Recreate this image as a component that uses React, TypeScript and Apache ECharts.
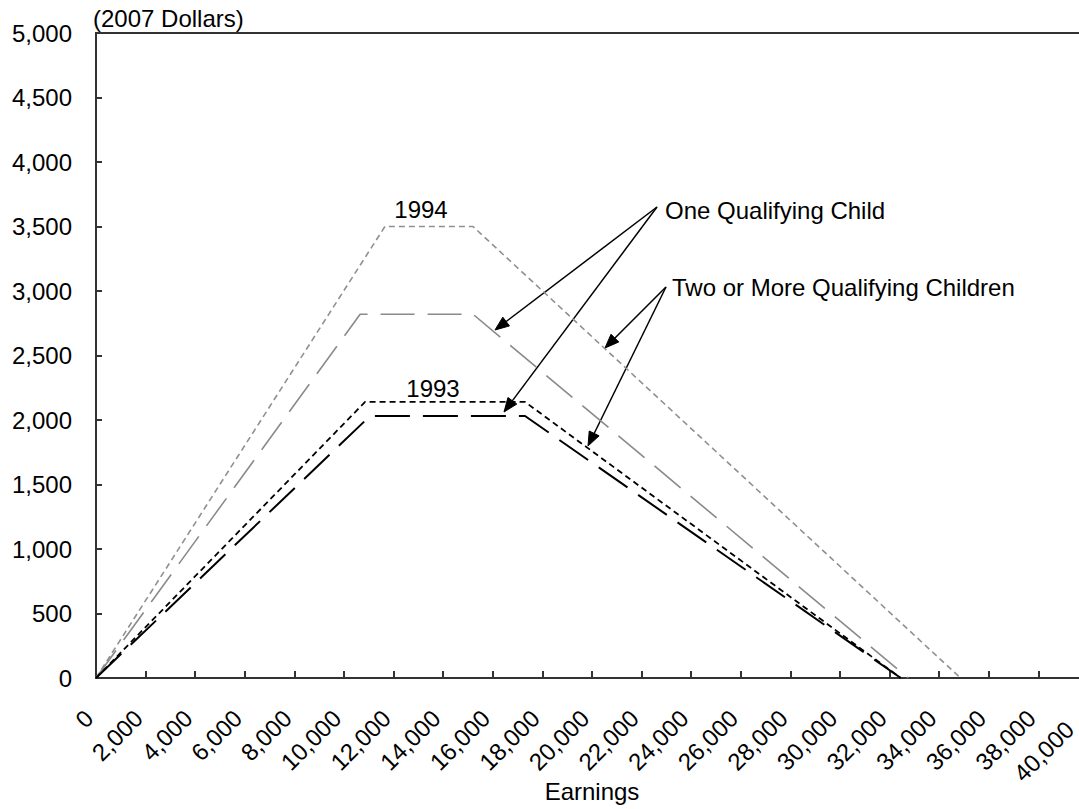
import React, { useEffect, useRef } from "react";
import * as echarts from "echarts";

// ---- Data (2007 dollars) ----
const earnings1994Two = [0, 11650, 15200, 34860];
const credit1994Two = [0, 3500, 3500, 0];

const earnings1994One = [0, 10650, 15200, 32750];
const credit1994One = [0, 2820, 2820, 0];

const earnings1993Two = [0, 10850, 17300, 32450];
const credit1993Two = [0, 2140, 2140, 0];

const earnings1993One = [0, 11050, 17300, 32450];
const credit1993One = [0, 2031, 2031, 0];

const xMin = 0;
const xMax = 40000;
const xStep = 2000;
const yMin = 0;
const yMax = 5000;
const yStep = 500;

const yAxisNote = "(2007 Dollars)";
const xAxisName = "Earnings";
const label1994 = "1994";
const label1993 = "1993";
const noteOne = "One Qualifying Child";
const noteTwo = "Two or More Qualifying Children";

const FONT = "'Liberation Sans', Arial, sans-serif";

const fmt = (v: number) => String(v).replace(/\B(?=(\d{3})+(?!\d))/g, ",");

const pairs = (xs: number[], ys: number[]) => xs.map((x, i) => [x, ys[i]]);

function arrow(x1: number, y1: number, x2: number, y2: number) {
  const dx = x2 - x1;
  const dy = y2 - y1;
  const len = Math.sqrt(dx * dx + dy * dy);
  const ux = dx / len;
  const uy = dy / len;
  const px = -uy;
  const py = ux;
  const L = 14;
  const W = 5.5;
  const bx = x2 - ux * L;
  const by = y2 - uy * L;
  return [
    {
      type: "line",
      shape: { x1, y1, x2: bx + ux * 2, y2: by + uy * 2 },
      style: { stroke: "#000", lineWidth: 1.5 },
      silent: true,
    },
    {
      type: "polygon",
      shape: {
        points: [
          [x2, y2],
          [bx + px * W, by + py * W],
          [bx - px * W, by - py * W],
        ],
      },
      style: { fill: "#000", stroke: "#000", lineWidth: 1 },
      silent: true,
    },
  ];
}

function textEl(text: string, x: number, y: number, align: string = "left") {
  return {
    type: "text",
    x,
    y,
    silent: true,
    style: {
      text,
      font: `24px ${FONT}`,
      fill: "#000",
      textAlign: align,
      textVerticalAlign: "middle",
      align,
      verticalAlign: "middle",
    },
  };
}

export default function App() {
  const ref = useRef<HTMLDivElement>(null);

  useEffect(() => {
    if (!ref.current) return;
    const chart = echarts.init(ref.current, undefined, { renderer: "svg" });

    const lineSeries = (
      name: string,
      xs: number[],
      ys: number[],
      color: string,
      width: number,
      dash: number[]
    ) => ({
      name,
      type: "line",
      data: pairs(xs, ys),
      showSymbol: false,
      symbol: "none",
      lineStyle: { color, width, type: dash },
      z: 3,
    });

    chart.setOption({
      animation: false,
      backgroundColor: "#fff",
      textStyle: { fontFamily: FONT },
      grid: {
        left: 96,
        top: 33,
        right: -9,
        bottom: 131,
        show: true,
        borderColor: "#333",
        borderWidth: 2,
        containLabel: false,
        outerBoundsMode: "none",
      },
      xAxis: {
        type: "value",
        min: xMin,
        max: xMax,
        interval: xStep,
        name: xAxisName,
        nameLocation: "middle",
        nameGap: 101,
        nameMoveOverlap: false,
        nameTextStyle: { fontSize: 24, color: "#000", fontFamily: FONT },
        axisLine: { show: true, lineStyle: { color: "#333", width: 2 } },
        axisTick: { show: true, inside: true, length: 7, lineStyle: { color: "#333", width: 2 } },
        splitLine: { show: false },
        axisLabel: {
          rotate: 45,
          margin: 29,
          padding: [0, 10, 0, 0],
          fontSize: 24,
          color: "#000",
          fontFamily: FONT,
          showMinLabel: true,
          showMaxLabel: true,
          hideOverlap: false,
          formatter: (v: number) => (v === xMax ? `{last|${fmt(v)}}` : fmt(v)),
          rich: {
            last: {
              fontSize: 24,
              color: "#000",
              fontFamily: FONT,
              padding: [0, 16, 0, 0],
            },
          },
        },
      },
      yAxis: {
        type: "value",
        min: yMin,
        max: yMax,
        interval: yStep,
        axisLine: { show: true, lineStyle: { color: "#333", width: 2 } },
        axisTick: { show: true, inside: true, length: 6, lineStyle: { color: "#333", width: 2 } },
        splitLine: { show: false },
        axisLabel: {
          margin: 24,
          fontSize: 24,
          color: "#000",
          fontFamily: FONT,
          formatter: (v: number) => fmt(v),
        },
      },
      series: [
        lineSeries("1994 Two or More Qualifying Children", earnings1994Two, credit1994Two, "#909090", 1.6, [6, 4]),
        lineSeries("1994 One Qualifying Child", earnings1994One, credit1994One, "#8a8a8a", 1.6, [34, 13]),
        lineSeries("1993 Two or More Qualifying Children", earnings1993Two, credit1993Two, "#000", 1.8, [6, 4]),
        lineSeries("1993 One Qualifying Child", earnings1993One, credit1993One, "#000", 2, [35, 13]),
      ],
      graphic: [
        textEl(yAxisNote, 93, 18),
        textEl(label1994, 421, 209, "center"),
        textEl(label1993, 433, 388, "center"),
        textEl(noteOne, 665, 210),
        textEl(noteTwo, 672, 287),
        ...arrow(657, 207, 495, 330),
        ...arrow(657, 207, 504, 412),
        ...arrow(666, 287, 605, 348),
        ...arrow(666, 287, 588, 446),
      ],
    });

    return () => chart.dispose();
  }, []);

  return (
    <div
      ref={ref}
      style={{ position: "fixed", left: 0, top: 0, width: 1079, height: 809, background: "#fff" }}
    />
  );
}
